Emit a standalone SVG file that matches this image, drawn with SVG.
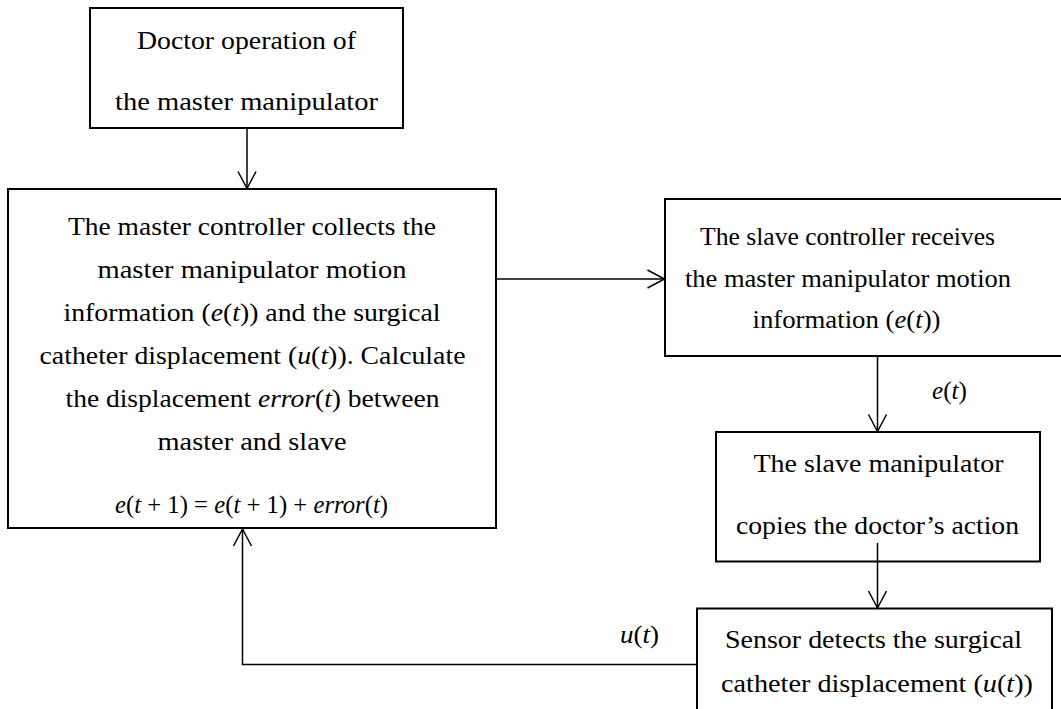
<svg xmlns="http://www.w3.org/2000/svg" width="1061" height="709" viewBox="0 0 1061 709">
  <style>
    .box { fill: #ffffff; stroke: #000000; stroke-width: 2; }
    text { font-family: 'Liberation Serif', Tinos, 'Times New Roman', 'Noto Serif', serif; font-size: 25px; fill: #000000; }
    .i { font-style: italic; }
    .wire { fill: none; stroke: #000000; stroke-width: 1.5; marker-end: url(#openArrow); }
  </style>
  <defs>
    <marker id="openArrow" markerUnits="userSpaceOnUse" markerWidth="24" markerHeight="24" viewBox="-20 -12 24 24" refX="0" refY="0" orient="auto">
      <path d="M-17,-9 L0,0 L-17,9" fill="none" stroke="#000000" stroke-width="1.5"/>
    </marker>
  </defs>

  <rect x="0" y="0" width="1061" height="709" fill="#ffffff"/>

  <!-- doctor input -->
  <g id="doctor">
    <rect class="box" x="90" y="8" width="313" height="120"/>
    <text x="137" y="49" textLength="219" lengthAdjust="spacingAndGlyphs">Doctor operation of</text>
    <text x="115" y="110" textLength="263" lengthAdjust="spacingAndGlyphs">the master manipulator</text>
  </g>

  <!-- master controller -->
  <g id="master-controller">
    <rect class="box" x="8" y="189" width="488" height="339"/>
    <text x="68" y="235" textLength="368" lengthAdjust="spacingAndGlyphs">The master controller collects the</text>
    <text x="97.5" y="278" textLength="309" lengthAdjust="spacingAndGlyphs">master manipulator motion</text>
    <text x="63.5" y="321" textLength="377" lengthAdjust="spacingAndGlyphs">information (<tspan class="i">e</tspan>(<tspan class="i">t</tspan>)) and the surgical</text>
    <text x="39.5" y="364" textLength="426" lengthAdjust="spacingAndGlyphs">catheter displacement (<tspan class="i">u</tspan>(<tspan class="i">t</tspan>)). Calculate</text>
    <text x="65.5" y="407" textLength="374" lengthAdjust="spacingAndGlyphs">the displacement <tspan class="i">error</tspan>(<tspan class="i">t</tspan>) between</text>
    <text x="157.5" y="450" textLength="189" lengthAdjust="spacingAndGlyphs">master and slave</text>
    <text x="115" y="513" textLength="273" lengthAdjust="spacingAndGlyphs"><tspan class="i">e</tspan>(<tspan class="i">t</tspan> + 1) = <tspan class="i">e</tspan>(<tspan class="i">t</tspan> + 1) + <tspan class="i">error</tspan>(<tspan class="i">t</tspan>)</text>
  </g>

  <!-- slave controller -->
  <g id="slave-controller">
    <rect class="box" x="665" y="199" width="410" height="157"/>
    <text x="700" y="245" textLength="295" lengthAdjust="spacingAndGlyphs">The slave controller receives</text>
    <text x="685" y="287" textLength="326" lengthAdjust="spacingAndGlyphs">the master manipulator motion</text>
    <text x="752.5" y="328" textLength="188" lengthAdjust="spacingAndGlyphs">information (<tspan class="i">e</tspan>(<tspan class="i">t</tspan>))</text>
  </g>

  <!-- slave manipulator -->
  <g id="slave-manipulator">
    <rect class="box" x="716" y="432" width="324" height="129.5"/>
    <text x="753.5" y="472" textLength="250" lengthAdjust="spacingAndGlyphs">The slave manipulator</text>
    <text x="736" y="534" textLength="283" lengthAdjust="spacingAndGlyphs">copies the doctor’s action</text>
  </g>

  <!-- sensor -->
  <g id="sensor">
    <rect class="box" x="697" y="608.5" width="355" height="120"/>
    <text x="725" y="648" textLength="297" lengthAdjust="spacingAndGlyphs">Sensor detects the surgical</text>
    <text x="721" y="692" textLength="312" lengthAdjust="spacingAndGlyphs">catheter displacement (<tspan class="i">u</tspan>(<tspan class="i">t</tspan>))</text>
  </g>

  <!-- connectors and their labels -->
  <g id="connectors">
    <path class="wire" d="M247,128 L247,188.5"/>
    <path class="wire" d="M497,279 L664.5,279"/>
    <path class="wire" d="M877.5,356 L877.5,431.5"/>
    <path class="wire" d="M877.5,543 L877.5,608"/>
    <path class="wire" d="M697,664.5 L242.5,664.5 L242.5,529"/>
    <text x="932" y="399" textLength="35" lengthAdjust="spacingAndGlyphs"><tspan class="i">e</tspan>(<tspan class="i">t</tspan>)</text>
    <text x="620" y="643" textLength="39" lengthAdjust="spacingAndGlyphs"><tspan class="i">u</tspan>(<tspan class="i">t</tspan>)</text>
  </g>
</svg>
